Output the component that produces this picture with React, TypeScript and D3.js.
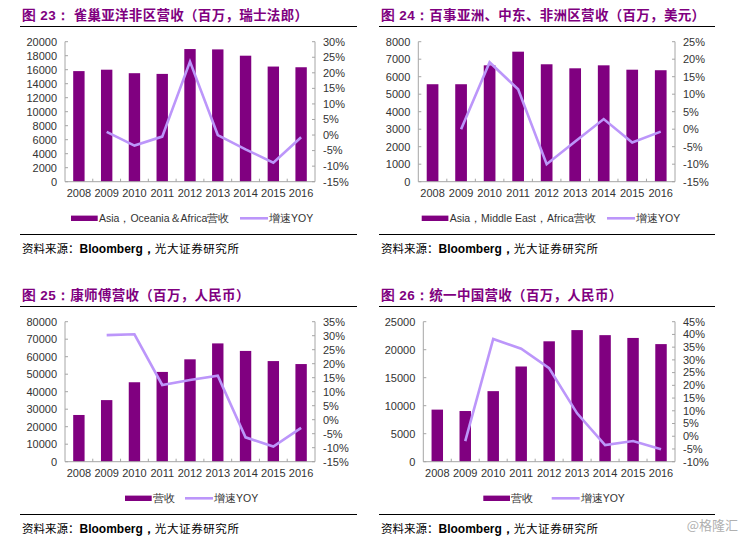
import React from 'react';
import * as d3 from 'd3';

const years = ['2008', '2009', '2010', '2011', '2012', '2013', '2014', '2015', '2016'];

const nestleRevenue = [15800, 16000, 15500, 15400, 18950, 18900, 18000, 16450, 16350];
const nestleYoY = [null, 1.0, -3.4, -0.5, 23.6, 0.0, -4.6, -8.9, -0.7];

const pepsiRevenue = [5570, 5570, 6650, 7430, 6710, 6480, 6650, 6400, 6370];
const pepsiYoY = [null, 0.0, 19.1, 11.4, -10.0, -3.5, 2.9, -3.8, -0.7];

const masterKongRevenue = [26700, 35200, 45400, 51300, 58500, 67600, 63300, 57500, 55800];
const masterKongYoY = [null, 30.2, 30.5, 12.4, 14.2, 15.7, -6.3, -9.6, -2.9];

const uniPresRevenue = [9300, 9050, 12600, 17000, 21500, 23500, 22600, 22100, 21000];
const uniPresYoY = [null, -1.9, 38.2, 34.4, 26.7, 9.0, -3.5, -1.9, -5.1];

const titles = [
  '图 23：  雀巢亚洋非区营收（百万，瑞士法郎）',
  '图 24：百事亚洲、中东、非洲区营收（百万，美元）',
  '图 25：康师傅营收（百万，人民币）',
  '图 26：统一中国营收（百万，人民币）',
];
const barLegends = ['Asia，Oceania＆Africa营收', 'Asia，Middle East，Africa营收', '营收', '营收'];
const lineLegend = '增速YOY';
const sourceLabel = '资料来源：';
const sourceBrand = 'Bloomberg，';
const sourceOrg = '光大证券研究所';
const watermark = '@格隆汇';

const BAR = '#800080';
const LINE = '#bc96fa';
const AXIS = '#a6a6a6';
const TEXT = '#333333';
const SANS = '"Liberation Sans", Arial, sans-serif';
const CJK = '"Noto Sans CJK SC", "Liberation Sans", sans-serif';

type PanelProps = {
  ox: number; oy: number;
  x0: number; x1: number; top: number; bottom: number;
  leftMax: number; leftStep: number;
  rMin: number; rMax: number;
  bars: number[]; yoy: (number | null)[];
  title: string; barLegend: string;
  legBarX: number; legLineX: number;
  ruleX0: number; ruleX1: number;
};

function Panel(p: PanelProps) {
  const x = d3.scaleBand<string>().domain(years).range([p.x0, p.x1]).paddingInner(0.59).paddingOuter(0.295);
  const step = x.step();
  const yl = d3.scaleLinear().domain([0, p.leftMax]).range([p.bottom, p.top]);
  const yr = d3.scaleLinear().domain([p.rMin, p.rMax]).range([p.bottom, p.top]);
  const leftTicks = d3.range(0, p.leftMax + 1, p.leftStep);
  const rightTicks = d3.range(p.rMin, p.rMax + 0.001, 5);
  const lineData = years.map((yr_, i) => ({ year: yr_, v: p.yoy[i] })).filter(d => d.v !== null) as { year: string; v: number }[];
  const line = d3.line<{ year: string; v: number }>()
    .x(d => (x(d.year) as number) + x.bandwidth() / 2)
    .y(d => yr(d.v));
  const titleY = p.oy + 15;
  const ruleTop = p.oy + 26.5;
  const legY = p.bottom + 36.6;
  const ruleBottom = p.bottom + 52.8;
  const srcY = p.bottom + 67;
  const titleMatch = p.title.match(/^(图 \d+：)(.*)$/);
  return (
    <g>
      <text x={p.ruleX0 + 2} y={titleY} dy="0.35em" fill={BAR} fontFamily={CJK} fontWeight={700} fontSize={13.5} letterSpacing={0.3}>
        <tspan fontFamily={SANS} fontWeight={700}>{titleMatch ? titleMatch[1].slice(0, 1) : ''}</tspan>
        <tspan fontFamily={SANS} fontWeight={700}>{titleMatch ? titleMatch[1].slice(1) : ''}</tspan>
        <tspan>{titleMatch ? titleMatch[2] : p.title}</tspan>
      </text>
      <line x1={p.ruleX0} x2={p.ruleX1} y1={ruleTop} y2={ruleTop} stroke="#000" strokeWidth={1.2} />
      {years.map((yv, i) => (
        <rect key={yv} x={x(yv)} y={yl(p.bars[i])} width={x.bandwidth()} height={yl(0) - yl(p.bars[i])} fill={BAR} />
      ))}
      <line x1={p.x0} x2={p.x0} y1={p.top} y2={p.bottom} stroke={AXIS} strokeWidth={1} />
      <line x1={p.x1} x2={p.x1} y1={p.top} y2={p.bottom} stroke={AXIS} strokeWidth={1} />
      <line x1={p.x0} x2={p.x1} y1={p.bottom} y2={p.bottom} stroke={AXIS} strokeWidth={1} />
      {leftTicks.map(t => (
        <g key={'l' + t}>
          <line x1={p.x0} x2={p.x0 + 3} y1={yl(t)} y2={yl(t)} stroke={AXIS} />
          <text x={p.x0 - 8} y={yl(t)} dy="0.35em" textAnchor="end" fontFamily={SANS} fontSize={11} fill={TEXT}>{t}</text>
        </g>
      ))}
      {rightTicks.map(t => (
        <g key={'r' + t}>
          <line x1={p.x1 - 3} x2={p.x1} y1={yr(t)} y2={yr(t)} stroke={AXIS} />
          <text x={p.x1 + 8} y={yr(t)} dy="0.35em" textAnchor="start" fontFamily={SANS} fontSize={11} fill={TEXT}>{`${Math.round(t)}%`}</text>
        </g>
      ))}
      {years.slice(1).map((yv) => (
        <line key={'bt' + yv} x1={x(yv)! - (step - x.bandwidth()) / 2} x2={x(yv)! - (step - x.bandwidth()) / 2} y1={p.bottom} y2={p.bottom - 3} stroke={AXIS} />
      ))}
      {years.map(yv => (
        <text key={'xl' + yv} x={x(yv)! + x.bandwidth() / 2} y={p.bottom + 11.5} dy="0.35em" textAnchor="middle" fontFamily={SANS} fontSize={11} fill={TEXT}>{yv}</text>
      ))}
      <path d={line(lineData) || ''} fill="none" stroke={LINE} strokeWidth={2.6} strokeLinejoin="miter" />
      <rect x={p.legBarX} y={legY - 2.7} width={26.7} height={5.4} fill={BAR} />
      <text x={p.legBarX + 28} y={legY} dy="0.35em" fontFamily={SANS} fontSize={10.5} fill={TEXT}>{p.barLegend}</text>
      <line x1={p.legLineX} x2={p.legLineX + 28} y1={legY} y2={legY} stroke={LINE} strokeWidth={2.6} />
      <text x={p.legLineX + 29} y={legY} dy="0.35em" fontFamily={SANS} fontSize={10.5} fill={TEXT}>{lineLegend}</text>
      <line x1={p.ruleX0} x2={p.ruleX1} y1={ruleBottom} y2={ruleBottom} stroke="#000" strokeWidth={1.2} />
      <text x={p.ruleX0 + 2} y={srcY} dy="0.35em" fontSize={11.5} fill="#000">
        <tspan fontFamily={CJK}>{sourceLabel}</tspan>
        <tspan fontFamily={SANS} fontWeight={700} fontSize={12}>{sourceBrand}</tspan>
        <tspan fontFamily={CJK} letterSpacing={0.6}>{sourceOrg}</tspan>
      </text>
    </g>
  );
}

export default function App() {
  return (
    <svg width={740} height={539} style={{ position: 'absolute', left: 0, top: 0, background: '#fff' }}>
      <rect x={0} y={0} width={740} height={539} fill="#fff" />
      <Panel ox={0} oy={0} x0={65} x1={315} top={41.7} bottom={181.7} leftMax={20000} leftStep={2000}
        rMin={-15} rMax={30} bars={nestleRevenue} yoy={nestleYoY} title={titles[0]} barLegend={barLegends[0]}
        legBarX={71} legLineX={240} ruleX0={20} ruleX1={357} />
      <Panel ox={370} oy={0} x0={418.3} x1={675} top={41.7} bottom={181.7} leftMax={8000} leftStep={1000}
        rMin={-15} rMax={25} bars={pepsiRevenue} yoy={pepsiYoY} title={titles[1]} barLegend={barLegends[1]}
        legBarX={421.7} legLineX={607} ruleX0={379} ruleX1={715} />
      <Panel ox={0} oy={280} x0={65} x1={315} top={321.7} bottom={461.7} leftMax={80000} leftStep={10000}
        rMin={-15} rMax={35} bars={masterKongRevenue} yoy={masterKongYoY} title={titles[2]} barLegend={barLegends[2]}
        legBarX={125} legLineX={185} ruleX0={20} ruleX1={357} />
      <Panel ox={370} oy={280} x0={423.3} x1={675} top={321.7} bottom={461.7} leftMax={25000} leftStep={5000}
        rMin={-10} rMax={45} bars={uniPresRevenue} yoy={uniPresYoY} title={titles[3]} barLegend={barLegends[3]}
        legBarX={483.3} legLineX={551.7} ruleX0={379} ruleX1={715} />
      <text x={738} y={525} dy="0.35em" textAnchor="end" fontFamily={CJK} fontSize={13} fill="#b0b0b0">{watermark}</text>
    </svg>
  );
}
